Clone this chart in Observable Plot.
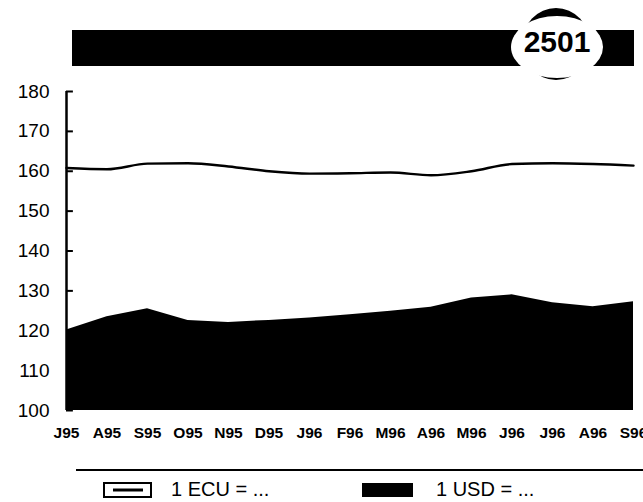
<!DOCTYPE html>
<html>
<head>
<meta charset="utf-8">
<script src="https://cdn.jsdelivr.net/npm/d3@7"></script>
<script src="https://cdn.jsdelivr.net/npm/@observablehq/plot@0.6"></script>
<style>
  html, body { margin: 0; padding: 0; background: #fff; overflow: hidden; }
  #page { position: relative; width: 643px; height: 502px; font-family: "Liberation Sans", Arial, sans-serif; }
  #chart { position: absolute; left: 0; top: 80px; }
  #chart svg { overflow: visible; }
  .abs { position: absolute; }
</style>
</head>
<body>
<div id="page">
  <svg class="abs" style="left:0;top:0" width="643" height="90">
    <rect x="72" y="30" width="562" height="36" fill="#000"/>
    <ellipse cx="556" cy="44" rx="34" ry="36" fill="#000"/>
    <ellipse cx="557" cy="47" rx="46" ry="31" fill="#fff"/>
    <text id="badge" x="557" y="44" text-anchor="middle" dominant-baseline="middle" font-family="Liberation Sans, Arial, sans-serif" font-weight="bold" font-size="30">2501</text>
  </svg>
  <div id="chart"></div>
  <svg class="abs" style="left:0;top:460px" width="643" height="42">
    <line x1="76" x2="643" y1="10" y2="10" stroke="#000" stroke-width="2"/>
    <rect x="104" y="23" width="47" height="14" fill="#fff" stroke="#000" stroke-width="2"/>
    <line x1="113" x2="143" y1="30" y2="30" stroke="#000" stroke-width="3"/>
    <text x="171" y="31" dominant-baseline="middle" font-size="20" font-family="Liberation Sans, Arial, sans-serif">1 ECU = ...</text>
    <rect x="362" y="23" width="51" height="14" fill="#000"/>
    <text x="436" y="31" dominant-baseline="middle" font-size="20" font-family="Liberation Sans, Arial, sans-serif">1 USD = ...</text>
  </svg>
</div>
<script>
// Month labels (Jul 1995 – Sep 1996)
const months = ["J95","A95","S95","O95","N95","D95","J96","F96","M96","A96","M96","J96","J96","A96","S96"];
// 1 ECU = ... (line)
const ecu = [160.8, 160.5, 161.9, 162.0, 161.2, 160.0, 159.4, 159.5, 159.7, 159.0, 160.0, 161.8, 162.0, 161.8, 161.4];
// 1 USD = ... (filled area)
const usd = [120.2, 123.5, 125.5, 122.6, 122.1, 122.6, 123.2, 124.0, 124.9, 125.9, 128.2, 129.0, 127.0, 126.0, 127.3];
// y tick values
const yTicks = [100, 110, 120, 130, 140, 150, 160, 170, 180];

const data = months.map((m, i) => ({i, m, ecu: ecu[i], usd: usd[i]}));
const xIdx = months.map((_, i) => i);

const chart = Plot.plot({
  width: 643,
  height: 360,
  marginTop: 11,
  marginBottom: 30,
  marginLeft: 66,
  marginRight: 10,
  style: {fontFamily: "Liberation Sans, Arial, sans-serif", color: "#000", background: "transparent"},
  x: {domain: [0, months.length - 1]},
  y: {domain: [100, 180]},
  marks: [
    Plot.areaY(data, {x: "i", y1: 100, y2: "usd", fill: "#000"}),
    Plot.lineY(data, {x: "i", y: "ecu", stroke: "#000", strokeWidth: 2.4, curve: "monotone-x"}),
    Plot.ruleX([0], {y1: 100, y2: 180, stroke: "#000", strokeWidth: 2.5}),
    Plot.ruleY(yTicks, {y: d => d, x1: 0, x2: 0.17, stroke: "#000", strokeWidth: 2}),
    Plot.axisY({ticks: yTicks, tickSize: 0, tickPadding: 17, fontSize: 19, label: null}),
    Plot.axisX({ticks: xIdx, tickFormat: i => months[i], tickSize: 0, tickPadding: 16, fontSize: 15.5, fontWeight: "bold", label: null})
  ]
});
document.getElementById("chart").appendChild(chart);
</script>
</body>
</html>
